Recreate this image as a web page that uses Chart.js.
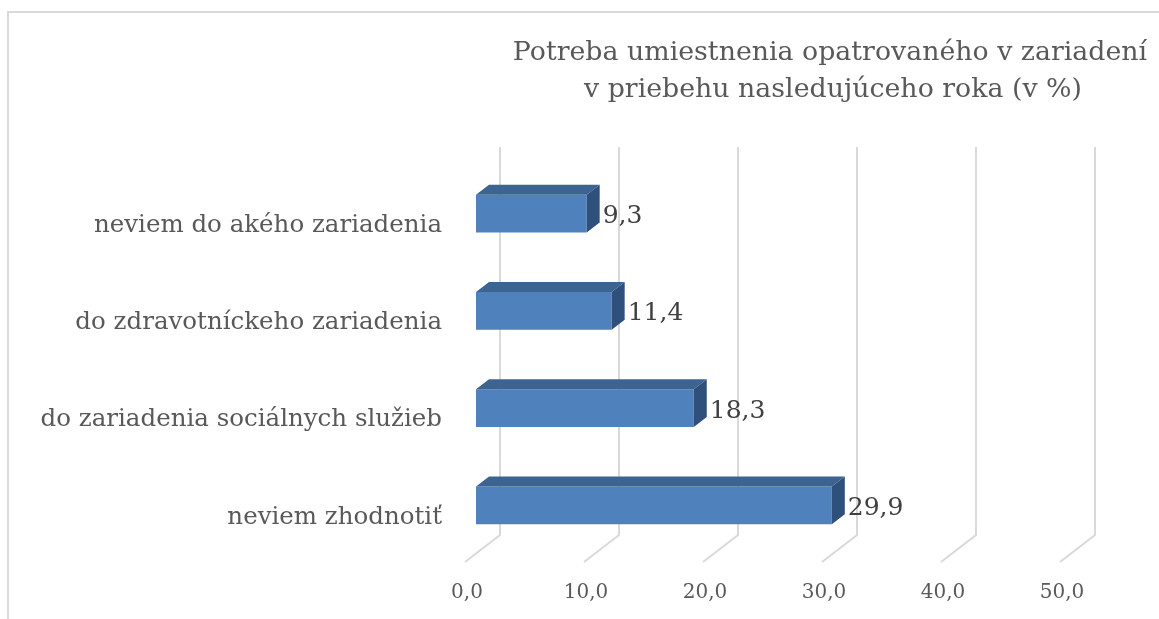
<!DOCTYPE html>
<html>
<head>
  <title>Potreba umiestnenia opatrovaného</title>
  <script src="https://cdn.jsdelivr.net/npm/chart.js"></script>
  <style>
    html, body { margin: 0; padding: 0; background: #fff; overflow: hidden; }
    #wrap { position: relative; width: 1159px; height: 619px; }
    #frame { position: absolute; left: 7px; top: 11px; width: 1200px; height: 700px;
             border: 2px solid #d9d9d9; box-sizing: border-box; }
    canvas { position: absolute; left: 0; top: 0; }
  </style>
</head>
<body>
  <div id="wrap">
    <div id="frame"></div>
    <canvas id="chart" width="1159" height="619"></canvas>
  </div>

  <script>
    const categories = [
      'neviem do akého zariadenia',
      'do zdravotníckeho zariadenia',
      'do zariadenia sociálnych služieb',
      'neviem zhodnotiť'
    ];
    const values = [9.3, 11.4, 18.3, 29.9];
    const xTicks = [0, 10, 20, 30, 40, 50];
    const titleLines = ['Potreba umiestnenia opatrovaného v zariadení', 'v priebehu nasledujúceho roka (v %)'];

    const FONT = '"DejaVu Serif", "Liberation Serif", serif';
    const fmt = v => v.toFixed(1).replace('.', ',');

    // 3D look: bar depth and back wall offsets (px)
    const DEPTH_X = 13, DEPTH_Y = 10;
    const WALL_X = 24, FLOOR_X = 11, FLOOR_Y = 27;

    const threeD = {
      id: 'threeD',
      beforeDatasetsDraw(chart) {
        const c = chart.ctx, x = chart.scales.x, a = chart.chartArea;
        c.save();
        c.strokeStyle = '#d9d9d9';
        c.lineWidth = 2;
        const top = a.top - 18, wallBottom = a.bottom - 19;
        xTicks.forEach(v => {
          const px = x.getPixelForValue(v);
          c.beginPath();
          c.moveTo(px + WALL_X, top);
          c.lineTo(px + WALL_X, wallBottom);
          c.lineTo(px - FLOOR_X, wallBottom + FLOOR_Y);
          c.stroke();
        });
        c.restore();
      },
      afterDatasetsDraw(chart) {
        const c = chart.ctx;
        const meta = chart.getDatasetMeta(0);
        c.save();
        meta.data.forEach((bar, i) => {
          const p = bar.getProps(['x', 'y', 'base', 'height'], true);
          const t = p.y - p.height / 2, b = p.y + p.height / 2;
          // top face
          c.fillStyle = '#3d6491';
          c.beginPath();
          c.moveTo(p.base, t);
          c.lineTo(p.base + DEPTH_X, t - DEPTH_Y);
          c.lineTo(p.x + DEPTH_X, t - DEPTH_Y);
          c.lineTo(p.x, t);
          c.closePath();
          c.fill();
          // side face
          c.fillStyle = '#30507c';
          c.beginPath();
          c.moveTo(p.x, t);
          c.lineTo(p.x + DEPTH_X, t - DEPTH_Y);
          c.lineTo(p.x + DEPTH_X, b - DEPTH_Y);
          c.lineTo(p.x, b);
          c.closePath();
          c.fill();
          // value label
          c.fillStyle = '#404040';
          c.font = '25px ' + FONT;
          c.textAlign = 'left';
          c.textBaseline = 'middle';
          c.fillText(fmt(values[i]), p.x + 16, p.y + 3);
        });
        // title
        c.fillStyle = '#595959';
        c.font = '26.8px ' + FONT;
        c.textAlign = 'center';
        c.textBaseline = 'alphabetic';
        c.fillText(titleLines[0], 830, 60);
        c.fillText(titleLines[1], 833, 97);
        c.restore();
      }
    };

    new Chart(document.getElementById('chart'), {
      type: 'bar',
      data: {
        labels: categories,
        datasets: [{
          data: values,
          backgroundColor: '#4f81bd',
          borderWidth: 0,
          categoryPercentage: 1,
          barPercentage: 0.39
        }]
      },
      options: {
        indexAxis: 'y',
        responsive: false,
        animation: false,
        layout: { padding: { top: 165, right: 88, left: 0, bottom: 0 } },
        plugins: { legend: { display: false }, tooltip: { enabled: false }, title: { display: false } },
        scales: {
          x: {
            min: 0, max: 50,
            afterFit(s) { s.height = 65; },
            grid: { display: false, drawTicks: false },
            border: { display: false },
            afterBuildTicks(s) { s.ticks = xTicks.map(v => ({ value: v })); },
            ticks: {
              callback: v => fmt(v),
              color: '#595959',
              font: { family: FONT, size: 20 },
              padding: 27,
              labelOffset: -9,
              maxRotation: 0
            }
          },
          y: {
            afterFit(s) { s.width = 476; },
            grid: { display: false, drawTicks: false },
            border: { display: false },
            ticks: {
              color: '#595959',
              font: { family: FONT, size: 24.5 },
              padding: 34,
              labelOffset: 12
            }
          }
        }
      },
      plugins: [threeD]
    });
  </script>
</body>
</html>
